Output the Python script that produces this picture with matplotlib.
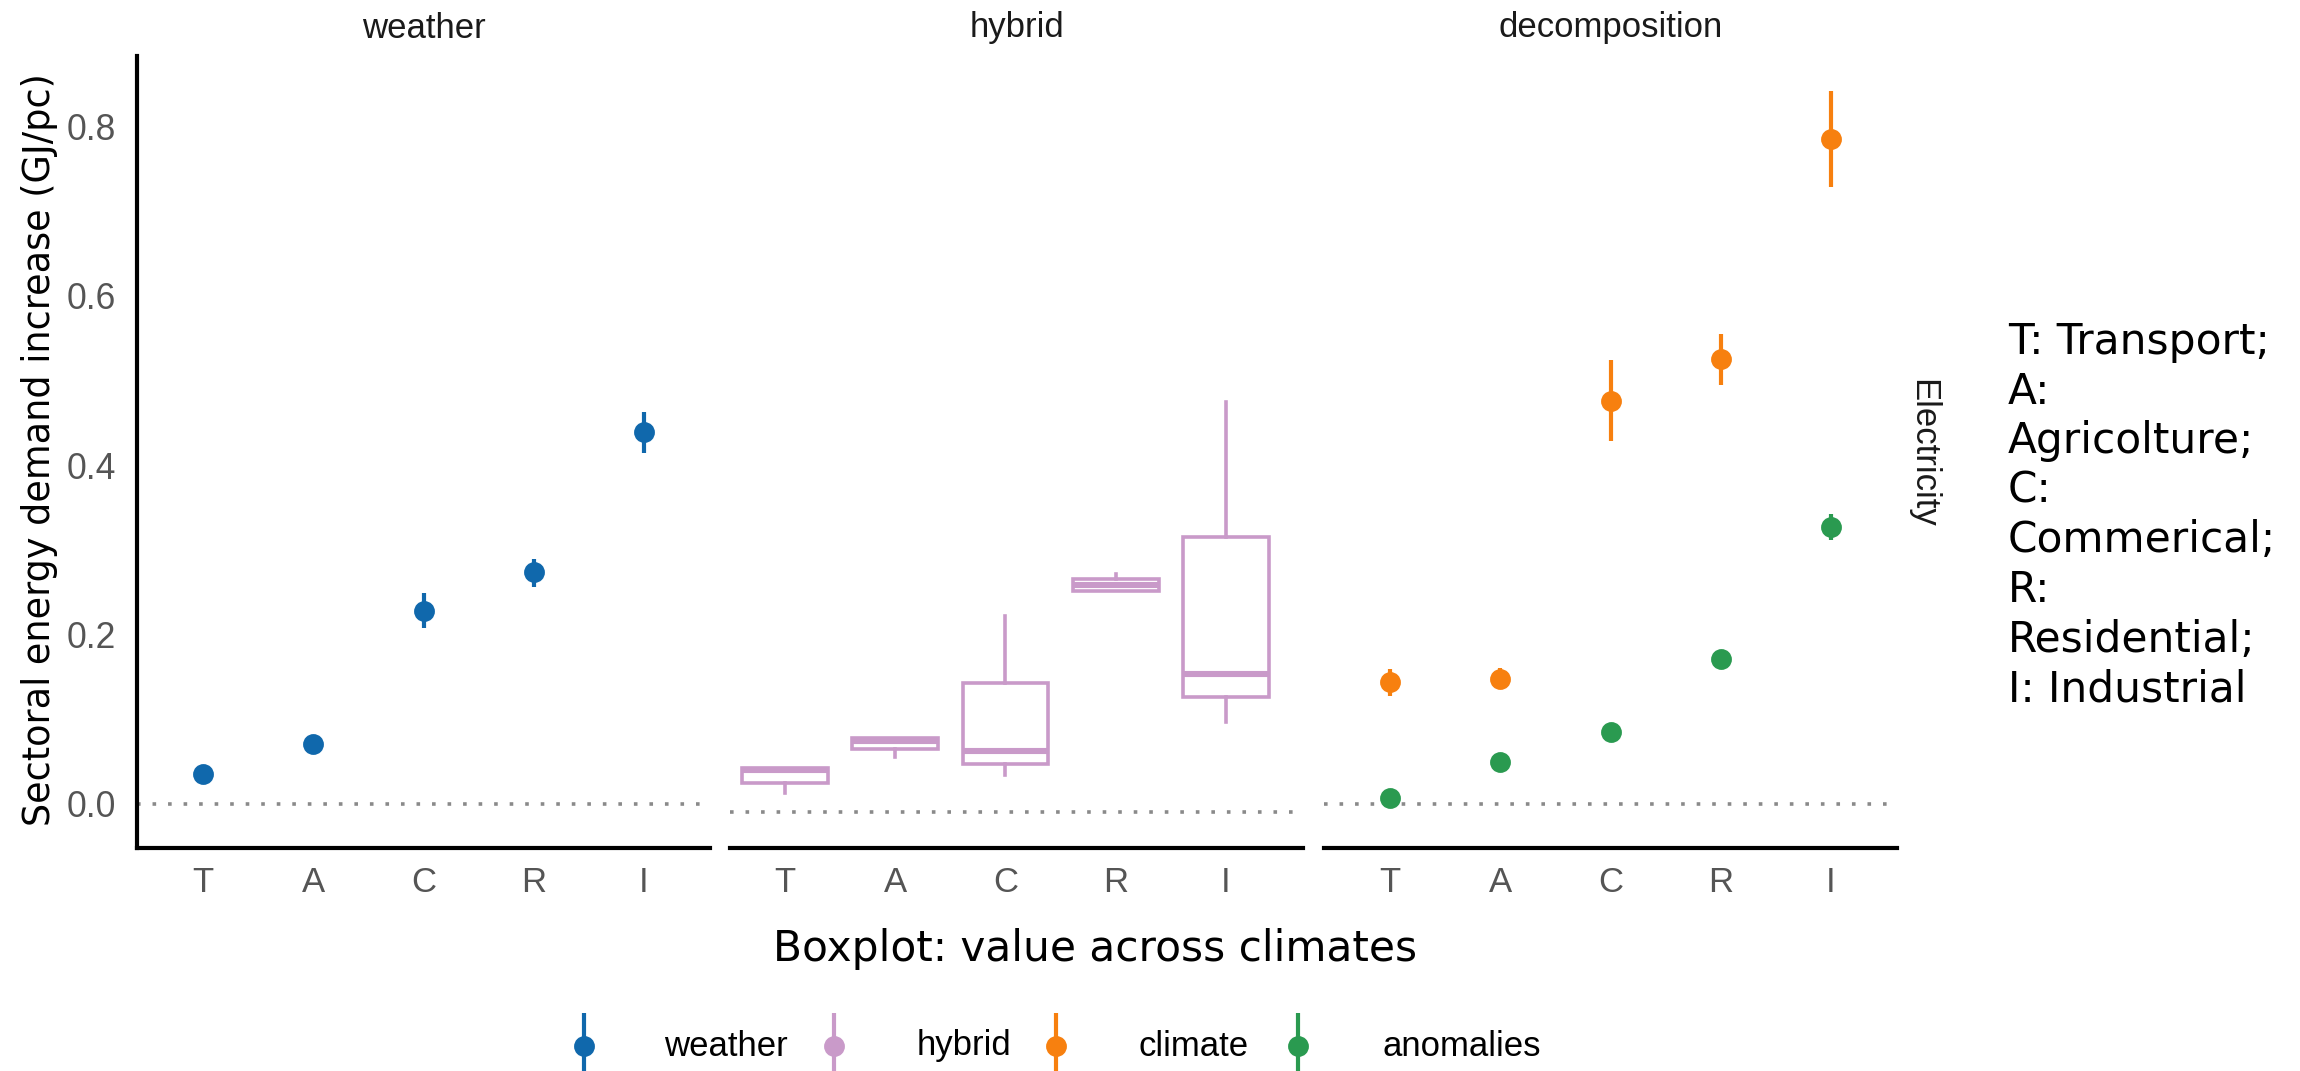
import matplotlib
matplotlib.use("Agg")
import matplotlib.pyplot as plt

# ---- data -------------------------------------------------------------
sectors = ["T", "A", "C", "R", "I"]
panels = ["weather", "hybrid", "decomposition"]

weather_mid = [0.035, 0.071, 0.228, 0.274, 0.439]
weather_lo = [0.032, 0.068, 0.208, 0.256, 0.414]
weather_hi = [0.038, 0.074, 0.249, 0.289, 0.463]

hybrid_whislo = [0.013, 0.055, 0.034, 0.251, 0.097]
hybrid_q1 = [0.025, 0.065, 0.047, 0.251, 0.126]
hybrid_med = [0.040, 0.074, 0.062, 0.259, 0.154]
hybrid_q3 = [0.043, 0.078, 0.143, 0.265, 0.315]
hybrid_whishi = [0.043, 0.078, 0.222, 0.272, 0.475]

climate_mid = [0.144, 0.148, 0.476, 0.525, 0.785]
climate_lo = [0.128, 0.137, 0.428, 0.495, 0.728]
climate_hi = [0.159, 0.161, 0.524, 0.555, 0.842]

anomalies_mid = [0.007, 0.050, 0.085, 0.171, 0.327]
anomalies_lo = [0.004, 0.047, 0.082, 0.167, 0.312]
anomalies_hi = [0.010, 0.053, 0.088, 0.175, 0.342]

zero_lines = [0.0, -0.01, 0.0]

legend_labels = ["weather", "hybrid", "climate", "anomalies"]
colors = {"weather": "#1068AC", "hybrid": "#C99AC9",
          "climate": "#F7800F", "anomalies": "#2A9A50"}

# ---- layout -----------------------------------------------------------
W, H = 2300, 1071
DPI = 200
fig = plt.figure(figsize=(W / DPI, H / DPI), dpi=DPI)

SANS = ["Liberation Sans", "DejaVu Sans"]
TITLE = ["DejaVu Sans"]


def fx(px):
    return px / W


def fy(py):
    return 1 - py / H


panel_left = [137, 730, 1324]
panel_w = 573
top_px, bot_px = 56, 848
ylim = (-0.052, 0.883)
xlims = [(0.4, 5.6), (0.5, 5.7), (0.4, 5.6)]
strip_y_px = 28

axes = []
for i, left in enumerate(panel_left):
    ax = fig.add_axes([fx(left), fy(bot_px), fx(panel_w), (bot_px - top_px) / H])
    ax.set_xlim(*xlims[i])
    ax.set_ylim(*ylim)
    for s in ("top", "right"):
        ax.spines[s].set_visible(False)
    ax.spines["left"].set_visible(i == 0)
    ax.spines["bottom"].set_linewidth(1.5)
    ax.spines["left"].set_linewidth(1.5)
    ax.set_xticks(range(1, 6))
    ax.set_xticklabels(sectors, family=SANS, fontsize=12.5, color="#555555")
    ax.tick_params(axis="x", length=0, pad=6.5)
    if i == 0:
        ax.set_yticks([0.0, 0.2, 0.4, 0.6, 0.8])
        ax.set_yticklabels(["0.0", "0.2", "0.4", "0.6", "0.8"], family=SANS,
                           fontsize=12.8, color="#555555")
        ax.tick_params(axis="y", length=0, pad=7.5)
    else:
        ax.set_yticks([])
    ax.axhline(zero_lines[i], color="#8A8A8A", lw=1.3, ls=(0, (1, 3.3)),
               dash_capstyle="butt", zorder=1)
    ax.patch.set_alpha(0)
    ax.text(0.5, 1 + (top_px - strip_y_px) / (bot_px - top_px),
            panels[i], transform=ax.transAxes, ha="center", va="center",
            family=SANS, fontsize=12.5, color="#1A1A1A")
    axes.append(ax)

x = list(range(1, 6))
MS = 6.5
LW = 1.5


def pointrange(ax, mid, lo, hi, color):
    ax.vlines(x, lo, hi, color=color, lw=LW, zorder=3)
    ax.plot(x, mid, "o", ms=MS, color=color, mec=color, zorder=4)


pointrange(axes[0], weather_mid, weather_lo, weather_hi, colors["weather"])

stats = []
for k in range(5):
    stats.append(dict(whislo=hybrid_whislo[k], q1=hybrid_q1[k], med=hybrid_med[k],
                      q3=hybrid_q3[k], whishi=hybrid_whishi[k], fliers=[]))
hc = colors["hybrid"]
axes[1].bxp(stats, positions=x, widths=0.78, showcaps=False, showfliers=False,
            patch_artist=True,
            boxprops=dict(facecolor="white", edgecolor=hc, lw=1.3),
            medianprops=dict(color=hc, lw=2.2, solid_capstyle="butt"),
            whiskerprops=dict(color=hc, lw=1.3), manage_ticks=False, zorder=3)

pointrange(axes[2], climate_mid, climate_lo, climate_hi, colors["climate"])
pointrange(axes[2], anomalies_mid, anomalies_lo, anomalies_hi, colors["anomalies"])

# strip label on the right
fig.text(fx(1923), fy(453), "Electricity", rotation=270, ha="center", va="center",
         family=SANS, fontsize=12.5, color="#1A1A1A")

# axis titles
fig.text(fx(40), fy(450), "Sectoral energy demand increase (GJ/pc)", rotation=90,
         ha="center", va="center", family=TITLE, fontsize=13.2, color="black")
fig.text(fx(1095), fy(949), "Boxplot: value across climates", ha="center",
         va="center", family=TITLE, fontsize=15.2, color="black")

# sector key
fig.text(fx(2008), fy(321), "T: Transport;\nA:\nAgricolture;\nC:\nCommerical;\nR:\nResidential;\nI: Industrial",
         ha="left", va="top", family=TITLE, fontsize=15.2, color="black",
         linespacing=1.23)

# legend
lax = fig.add_axes([0, 0, 1, 1])
lax.set_xlim(0, W)
lax.set_ylim(H, 0)
lax.axis("off")
key_x = [584, 834, 1056, 1298]
lab_x = [664, 917, 1139, 1382]
for kx, lx, lab in zip(key_x, lab_x, legend_labels):
    c = colors[lab]
    lax.plot([kx, kx], [1013, 1075], color=c, lw=LW, solid_capstyle="butt")
    lax.plot([kx], [1046], "o", ms=MS, color=c, mec=c)
    lax.text(lx, 1046, lab, ha="left", va="center", family=SANS, fontsize=12.5,
             color="black")

fig.savefig("out.png", dpi=DPI, facecolor="white")
